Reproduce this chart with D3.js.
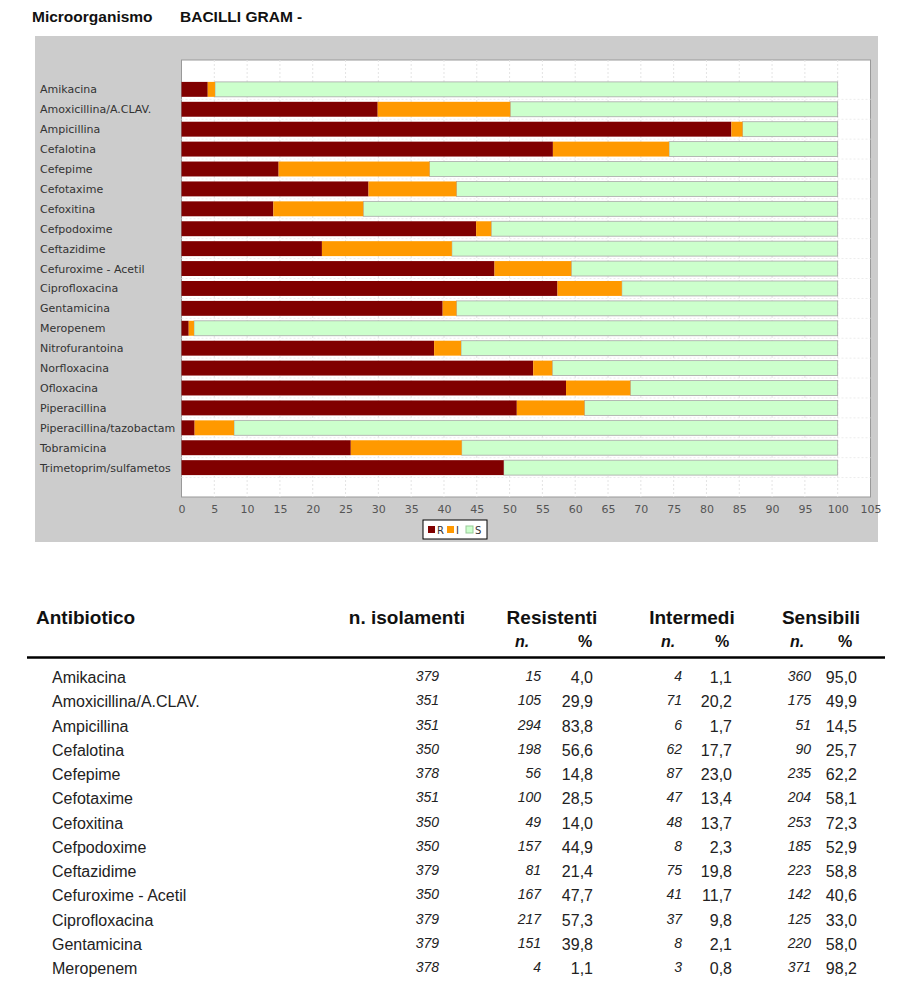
<!DOCTYPE html>
<html><head><meta charset="utf-8">
<script src="https://cdn.jsdelivr.net/npm/d3@7"></script>
<style>body{margin:0;background:#fff;}svg{display:block;font-family:"Liberation Sans",Arial,sans-serif;}</style>
</head><body><svg id="c" width="908" height="992"></svg>
<script>
const categories=["Amikacina","Amoxicillina/A.CLAV.","Ampicillina","Cefalotina","Cefepime","Cefotaxime","Cefoxitina","Cefpodoxime","Ceftazidime","Cefuroxime - Acetil","Ciprofloxacina","Gentamicina","Meropenem","Nitrofurantoina","Norfloxacina","Ofloxacina","Piperacillina","Piperacillina/tazobactam","Tobramicina","Trimetoprim/sulfametos"];
const pctR=[4.0,29.9,83.8,56.6,14.8,28.5,14.0,44.9,21.4,47.7,57.3,39.8,1.1,38.5,53.6,58.6,51.1,2.0,25.8,49.1];
const pctI=[1.1,20.2,1.7,17.7,23.0,13.4,13.7,2.3,19.8,11.7,9.8,2.1,0.8,4.1,2.9,9.8,10.3,6.0,16.9,0.0];
const pctS=[95.0,49.9,14.5,25.7,62.2,58.1,72.3,52.9,58.8,40.6,33.0,58.0,98.2,57.4,43.5,31.6,38.6,92.0,57.3,50.9];
const xTicks=d3.range(0,106,5);
const tableNames=categories.slice(0,13);
const nIsol=[379,351,351,350,378,351,350,350,379,350,379,379,378];
const nR=[15,105,294,198,56,100,49,157,81,167,217,151,4];
const nI=[4,71,6,62,87,47,48,8,75,41,37,8,3];
const nS=[360,175,51,90,235,204,253,185,223,142,125,220,371];
const tPctR=["4,0","29,9","83,8","56,6","14,8","28,5","14,0","44,9","21,4","47,7","57,3","39,8","1,1"];
const tPctI=["1,1","20,2","1,7","17,7","23,0","13,4","13,7","2,3","19,8","11,7","9,8","2,1","0,8"];
const tPctS=["95,0","49,9","14,5","25,7","62,2","58,1","72,3","52,9","58,8","40,6","33,0","58,0","98,2"];
const colR="#800000",colI="#ff9900",colS="#ccffcc";
const chartFont="DejaVu Sans, sans-serif";

const svg=d3.select("#c");
// title
svg.append("text").attr("x",32).attr("y",22).attr("font-size",15.5).attr("font-weight","bold").attr("fill","#111").text("Microorganismo");
svg.append("text").attr("x",180).attr("y",22).attr("font-size",15.5).attr("font-weight","bold").attr("fill","#111").text("BACILLI GRAM -");

// panel
svg.append("rect").attr("x",35).attr("y",36).attr("width",843).attr("height",506).attr("fill","#cccccc");
const pl=181.5,pr=870.5,pt=60,pb=497;
svg.append("rect").attr("x",pl).attr("y",pt).attr("width",pr-pl).attr("height",pb-pt).attr("fill","#fff").attr("stroke","#999").attr("stroke-width",1);
const x=d3.scaleLinear().domain([0,105]).range([pl,pr]);
const y=d3.scaleBand().domain(categories).range([pt,pb]).paddingInner(0.25).paddingOuter(1.1);
// grid
svg.append("g").selectAll("line").data(xTicks.slice(1,-1)).join("line")
 .attr("x1",d=>x(d)).attr("x2",d=>x(d)).attr("y1",pt).attr("y2",pb)
 .attr("stroke","#e4e4e4").attr("stroke-dasharray","2,2");
svg.append("g").selectAll("line").data(categories).join("line")
 .attr("x1",pl).attr("x2",pr).attr("y1",d=>y(d)+y.bandwidth()+y.step()*0.125).attr("y2",d=>y(d)+y.bandwidth()+y.step()*0.125)
 .attr("stroke","#ececec").attr("stroke-dasharray","2,2");
// bars
const rows=categories.map((c,i)=>({c,r:pctR[i],i:pctI[i],s:pctS[i]}));
const g=svg.append("g");
g.selectAll(".s").data(rows).join("rect").attr("x",d=>x(d.r+d.i)).attr("y",d=>y(d.c)).attr("width",d=>x(100)-x(d.r+d.i)).attr("height",y.bandwidth()).attr("fill",colS).attr("stroke","#a8a8a8").attr("stroke-width",0.8);
g.selectAll(".r").data(rows).join("rect").attr("x",x(0)).attr("y",d=>y(d.c)).attr("width",d=>x(d.r)-x(0)).attr("height",y.bandwidth()).attr("fill",colR);
g.selectAll(".i").data(rows).join("rect").attr("x",d=>x(d.r)).attr("y",d=>y(d.c)).attr("width",d=>x(d.r+d.i)-x(d.r)).attr("height",y.bandwidth()).attr("fill",colI);
// category labels
svg.append("g").selectAll("text").data(categories).join("text").attr("x",40).attr("y",d=>y(d)+y.bandwidth()/2+4).attr("font-size",11).attr("font-family",chartFont).attr("fill","#333").text(d=>d);
// x axis
const ax=svg.append("g").attr("transform",`translate(0,${pb})`).call(d3.axisBottom(x).tickValues(xTicks).tickSize(0).tickPadding(8));
ax.select(".domain").remove();
ax.selectAll("text").attr("font-size",11).attr("fill","#555").attr("font-family",chartFont);
// legend
const lg=svg.append("g").attr("transform","translate(423,520)");
lg.append("rect").attr("width",64).attr("height",19).attr("fill","#fff").attr("stroke","#000");
const li=[{k:"R",c:colR},{k:"I",c:colI},{k:"S",c:colS}];
li.forEach((d,i)=>{const ox=5+i*19;
 lg.append("rect").attr("x",ox).attr("y",6).attr("width",7).attr("height",7).attr("fill",d.c).attr("stroke",d.k==="S"?"#9c9":"none");
 lg.append("text").attr("x",ox+9).attr("y",14).attr("font-size",10).attr("font-family",chartFont).attr("fill","#333").text(d.k);});

// table
const hd=svg.append("g").attr("font-weight","bold").attr("font-size",19).attr("fill","#111");
hd.append("text").attr("x",36).attr("y",624).text("Antibiotico");
hd.append("text").attr("x",465).attr("y",624).attr("text-anchor","end").text("n. isolamenti");
hd.append("text").attr("x",552).attr("y",624).attr("text-anchor","middle").text("Resistenti");
hd.append("text").attr("x",692).attr("y",624).attr("text-anchor","middle").text("Intermedi");
hd.append("text").attr("x",821).attr("y",624).attr("text-anchor","middle").text("Sensibili");
const sub=[[522,"n."],[585,"%"],[668,"n."],[722,"%"],[797,"n."],[845,"%"]];
svg.append("g").selectAll("text").data(sub).join("text").attr("x",d=>d[0]).attr("y",647).attr("text-anchor","middle")
 .attr("font-size",16).attr("font-weight","bold").attr("font-style",d=>d[1]==="n."?"italic":"normal").attr("fill","#111").text(d=>d[1]);
svg.append("line").attr("x1",27).attr("x2",885).attr("y1",657.5).attr("y2",657.5).attr("stroke","#000").attr("stroke-width",2.5);
const rowY=i=>683+i*24.25;
const tb=svg.append("g");
tb.selectAll(".nm").data(tableNames).join("text").attr("x",52).attr("y",(d,i)=>rowY(i)).attr("font-size",16).attr("fill","#222").text(d=>d);
const italCols=[[nIsol,439],[nR,541],[nI,682],[nS,811]];
italCols.forEach(([arr,xx])=>{
 tb.append("g").selectAll("text").data(arr).join("text").attr("x",xx).attr("y",(d,i)=>rowY(i)-2).attr("text-anchor","end")
  .attr("font-size",14).attr("font-style","italic").attr("fill","#222").text(d=>d);});
const pctCols=[[tPctR,593],[tPctI,732],[tPctS,857]];
pctCols.forEach(([arr,xx])=>{
 tb.append("g").selectAll("text").data(arr).join("text").attr("x",xx).attr("y",(d,i)=>rowY(i)).attr("text-anchor","end")
  .attr("font-size",16).attr("fill","#222").text(d=>d);});
</script></body></html>
